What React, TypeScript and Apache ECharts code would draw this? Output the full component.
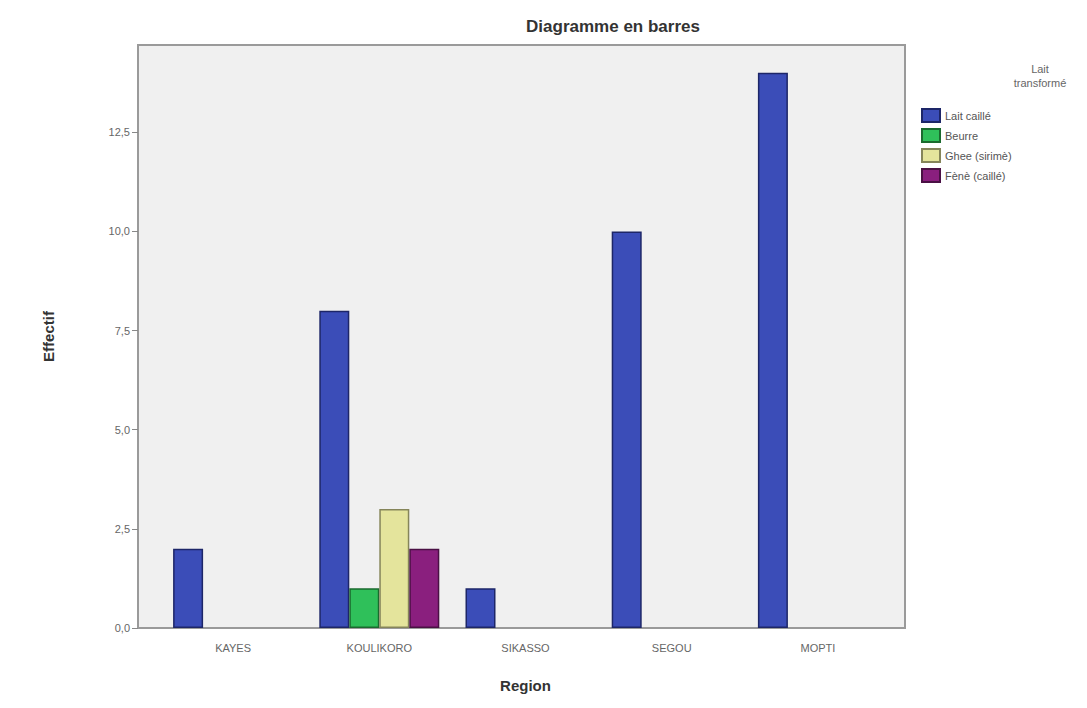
import React, { useEffect, useRef } from "react";
import * as echarts from "echarts";

const regions = ["KAYES", "KOULIKORO", "SIKASSO", "SEGOU", "MOPTI"];
const seriesNames = ["Lait caillé", "Beurre", "Ghee (sirimè)", "Fènè (caillé)"];
const laitCaille = [2, 8, 1, 10, 14];
const beurre = [0, 1, 0, 0, 0];
const ghee = [0, 3, 0, 0, 0];
const fene = [0, 2, 0, 0, 0];
const yTicks = [0, 2.5, 5, 7.5, 10, 12.5];

const fills = ["#3b4db8", "#2fc05a", "#e4e49c", "#8a1f7e"];
const borders = ["#1d2668", "#1a6a2e", "#85855a", "#4a1044"];

export default function App() {
  const ref = useRef<HTMLDivElement>(null);
  useEffect(() => {
    const chart = echarts.init(ref.current!, null, { renderer: "svg" });
    const values = [laitCaille, beurre, ghee, fene];
    chart.setOption({
      animation: false,
      backgroundColor: "#ffffff",
      textStyle: { fontFamily: "Liberation Sans" },
      graphic: [
        {
          type: "rect",
          z: 0,
          shape: { x: 138, y: 45, width: 767, height: 583 },
          style: { fill: "#f0f0f0", stroke: "#9a9a9a", lineWidth: 2 },
        },
        {
          type: "text",
          x: 613,
          y: 18,
          style: {
            text: "Diagramme en barres",
            fill: "#333",
            font: "bold 17px 'Liberation Sans'",
            textAlign: "center",
          },
        },
        {
          type: "text",
          x: 1040,
          y: 62,
          style: {
            text: "Lait\ntransformé",
            fill: "#666",
            font: "11px 'Liberation Sans'",
            textAlign: "center",
            lineHeight: 14,
          },
        },
      ],
      legend: {
        orient: "vertical",
        left: 916,
        top: 103,
        icon: "rect",
        itemWidth: 18,
        itemHeight: 13,
        itemGap: 5,
        textStyle: { fontSize: 11, color: "#555", fontFamily: "Liberation Sans" },
        data: seriesNames,
      },
      grid: { left: 160, right: 196, top: 45, bottom: 80 },
      xAxis: {
        type: "category",
        data: regions,
        axisLine: { show: false },
        axisTick: { alignWithLabel: true, length: 6, lineStyle: { color: "#888" } },
        axisLabel: { fontSize: 11, color: "#666", margin: 14 },
        name: "Region",
        nameLocation: "middle",
        nameGap: 50,
        nameTextStyle: { fontSize: 15, fontWeight: "bold", color: "#333" },
      },
      yAxis: {
        type: "value",
        min: 0,
        max: 14.7,
        interval: 2.5,
        offset: 22,
        axisLine: { show: true, lineStyle: { color: "#9a9a9a", width: 2 } },
        axisTick: { show: true, length: 6, customValues: yTicks, lineStyle: { color: "#888" } },
        axisLabel: {
          customValues: yTicks,
          fontSize: 11,
          color: "#666",
          formatter: (v: number) => v.toFixed(1).replace(".", ","),
        },
        splitLine: { show: false },
        name: "Effectif",
        nameLocation: "middle",
        nameGap: 82,
        nameTextStyle: { fontSize: 15, fontWeight: "bold", color: "#333" },
      },
      series: seriesNames.map((n, i) => ({
        name: n,
        type: "bar",
        data: values[i].map((v) => (v === 0 ? "-" : v)),
        barWidth: 30,
        barGap: "0%",
        z: 3,
        itemStyle: { color: fills[i], borderColor: borders[i], borderWidth: 1.5 },
      })),
    });
    return () => chart.dispose();
  }, []);
  return (
    <div
      ref={ref}
      style={{ position: "fixed", left: 0, top: 0, width: 1087, height: 708 }}
    />
  );
}
